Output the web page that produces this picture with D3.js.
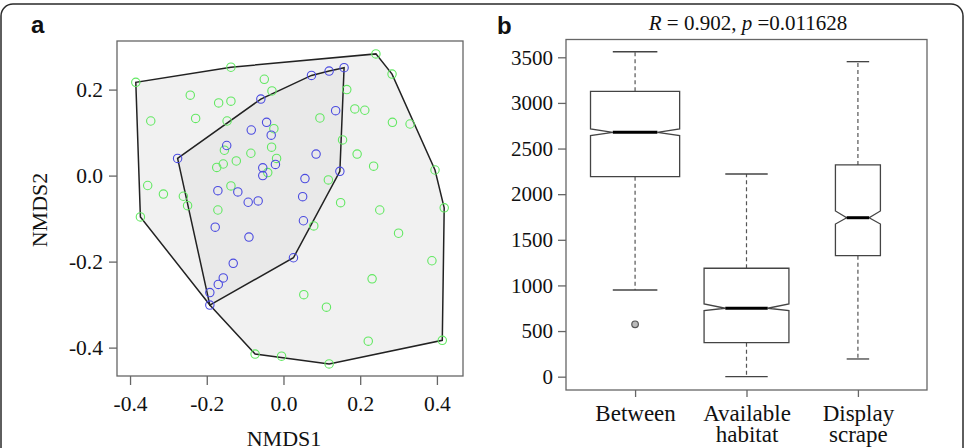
<!DOCTYPE html>
<html>
<head>
<meta charset="utf-8">
<script src="https://cdn.jsdelivr.net/npm/d3@7"></script>
<style>
  body { margin: 0; background: #fff; }
  svg text { font-family: "Liberation Serif", "Times New Roman", serif; fill: #111; }
</style>
</head>
<body>
<svg id="fig" width="967" height="448"></svg>
<script>
// ---- panel a: NMDS scores (NMDS1, NMDS2) ----
var greenPts = [
  [-0.385, 0.217], [-0.137, 0.252], [-0.050, 0.224], [-0.030, 0.197], [-0.243, 0.187],
  [-0.169, 0.169], [-0.137, 0.173], [-0.346, 0.127], [-0.229, 0.133], [-0.147, 0.127],
  [-0.025, 0.109], [-0.031, 0.066], [-0.154, 0.059], [-0.085, 0.052], [-0.018, 0.040],
  [-0.123, 0.034], [-0.157, 0.027], [-0.174, 0.019], [-0.041, 0.007], [0.241, 0.283],
  [0.283, 0.236], [0.165, 0.200], [0.186, 0.155], [0.212, 0.152], [0.095, 0.134],
  [0.284, 0.124], [0.330, 0.120], [0.154, 0.083], [0.192, 0.050], [0.235, 0.022],
  [0.395, 0.013], [0.117, -0.010], [-0.354, -0.023], [-0.313, -0.043], [-0.261, -0.048],
  [-0.250, -0.070], [-0.373, -0.096], [-0.137, -0.024], [-0.171, -0.080], [0.149, -0.063],
  [0.251, -0.080], [0.300, -0.134], [0.419, -0.075], [0.387, -0.198], [0.079, -0.117],
  [0.231, -0.240], [0.053, -0.277], [0.112, -0.306], [-0.074, -0.415], [-0.005, -0.420],
  [0.221, -0.385], [0.414, -0.383], [0.119, -0.438]
];
var bluePts = [
  [-0.059, 0.178], [-0.044, 0.124], [-0.084, 0.106], [-0.032, 0.094], [-0.148, 0.070],
  [-0.276, 0.040], [-0.054, 0.018], [-0.021, 0.026], [-0.054, 0.000], [0.073, 0.233],
  [0.119, 0.243], [0.158, 0.251], [0.136, 0.151], [0.085, 0.050], [0.147, 0.010],
  [0.056, -0.007], [-0.171, -0.035], [-0.119, -0.038], [-0.092, -0.062], [-0.066, -0.059],
  [-0.178, -0.120], [-0.090, -0.143], [-0.131, -0.204], [-0.157, -0.238], [-0.170, -0.253],
  [-0.192, -0.272], [-0.192, -0.301], [0.050, -0.049], [0.052, -0.105], [0.026, -0.191]
];
var nmdsTicksX = [-0.4, -0.2, 0.0, 0.2, 0.4];
var nmdsTicksY = [-0.4, -0.2, 0.0, 0.2];

// ---- panel b: distance boxplots ----
var groups   = ["Between", "Available habitat", "Display scrape"];
var groupN   = [1225, 1110, 312];            // sample sizes (box width ~ sqrt(n))
var lowWhisk = [950, 0, 194];
var q1       = [2192, 373, 1326];
var medians  = [2678, 750, 1742];
var q3       = [3127, 1188, 2320];
var highWhisk= [3561, 2221, 3452];
var notchLo  = [2642, 723, 1673];
var notchHi  = [2715, 797, 1816];
var outliers = [[1, 574]];                    // [group index (1-based), value]
var distTicks = [0, 500, 1000, 1500, 2000, 2500, 3000, 3500];

var svg = d3.select("#fig");

// card outline
svg.append("rect")
  .attr("x", 1).attr("y", 4).attr("width", 962).attr("height", 470)
  .attr("rx", 12)
  .attr("fill", "none").attr("stroke", "#2a2a2a").attr("stroke-width", 1.5);

// panel letters
svg.append("text").attr("x", 31).attr("y", 33).text("a")
  .style("font-family", "'Liberation Sans', Arial, sans-serif")
  .style("font-weight", "bold").style("font-size", "24px");
svg.append("text").attr("x", 497).attr("y", 34).text("b")
  .style("font-family", "'Liberation Sans', Arial, sans-serif")
  .style("font-weight", "bold").style("font-size", "24px");

// ================= panel a =================
var ax = d3.scaleLinear().domain([-0.434, 0.468]).range([117, 463]);
var ay = d3.scaleLinear().domain([-0.466, 0.313]).range([376, 41]);

var pa = svg.append("g");

var allPx = greenPts.concat(bluePts).map(d => [ax(d[0]), ay(d[1])]);
var bluePx = bluePts.map(d => [ax(d[0]), ay(d[1])]);
var outerHull = d3.polygonHull(allPx);
var innerHull = d3.polygonHull(bluePx);

var hullLine = d3.line().curve(d3.curveLinearClosed);
pa.append("path").attr("d", hullLine(outerHull))
  .attr("fill", "#f1f1f1").attr("stroke", "#222").attr("stroke-width", 1.5);
pa.append("path").attr("d", hullLine(innerHull))
  .attr("fill", "#e9e9e9").attr("stroke", "#222").attr("stroke-width", 1.5);

pa.selectAll("circle.g").data(greenPts).join("circle")
  .attr("class", "g")
  .attr("cx", d => ax(d[0])).attr("cy", d => ay(d[1])).attr("r", 4.2)
  .attr("fill", "none").attr("stroke", "#62e862").attr("stroke-width", 1.1);
pa.selectAll("circle.b").data(bluePts).join("circle")
  .attr("class", "b")
  .attr("cx", d => ax(d[0])).attr("cy", d => ay(d[1])).attr("r", 4.2)
  .attr("fill", "none").attr("stroke", "#4b4be0").attr("stroke-width", 1.1);

// frame
pa.append("rect").attr("x", 117).attr("y", 41).attr("width", 346).attr("height", 335)
  .attr("fill", "none").attr("stroke", "#666").attr("stroke-width", 1.3);

var axA = pa.append("g").attr("transform", "translate(0,376)")
  .call(d3.axisBottom(ax).tickValues(nmdsTicksX).tickFormat(d3.format(".1f"))
    .tickSize(9).tickPadding(11));
var ayA = pa.append("g").attr("transform", "translate(117,0)")
  .call(d3.axisLeft(ay).tickValues(nmdsTicksY).tickFormat(d3.format(".1f"))
    .tickSize(8).tickPadding(6));
[axA, ayA].forEach(g => {
  g.select(".domain").remove();
  g.selectAll(".tick line").attr("stroke", "#666").attr("stroke-width", 1.3);
  g.selectAll(".tick text").attr("font-family", "Liberation Serif")
    .style("font-family", "'Liberation Serif', serif")
    .style("font-size", "21.5px").attr("fill", "#111")
    .text(function(d) { return d3.format(".1f")(d).replace("−", "-"); });
});

pa.append("text").attr("x", 284).attr("y", 446).attr("text-anchor", "middle")
  .style("font-size", "22px").text("NMDS1");
pa.append("text").attr("transform", "translate(47,210) rotate(-90)")
  .attr("text-anchor", "middle").style("font-size", "22px").text("NMDS2");

// ================= panel b =================
var bx = d3.scaleLinear().domain([0.38, 3.62]).range([566, 927]);
var by = d3.scaleLinear().domain([-146, 3695]).range([390, 39.5]);
var maxRoot = d3.max(groupN, n => Math.sqrt(n));
var halfW = groupN.map(n => (bx(1.4) - bx(1)) * Math.sqrt(n) / maxRoot);

var pb = svg.append("g");
var boxes = groups.map((g, i) => ({
  i: i, cx: bx(i + 1), w: halfW[i],
  lo: lowWhisk[i], q1: q1[i], med: medians[i], q3: q3[i], hi: highWhisk[i],
  nlo: notchLo[i], nhi: notchHi[i]
}));

var bg = pb.selectAll("g.box").data(boxes).join("g").attr("class", "box");
// whiskers
bg.append("line").attr("x1", d => d.cx).attr("x2", d => d.cx)
  .attr("y1", d => by(d.q3)).attr("y2", d => by(d.hi))
  .attr("stroke", "#555").attr("stroke-width", 1.2).attr("stroke-dasharray", "4,3");
bg.append("line").attr("x1", d => d.cx).attr("x2", d => d.cx)
  .attr("y1", d => by(d.q1)).attr("y2", d => by(d.lo))
  .attr("stroke", "#555").attr("stroke-width", 1.2).attr("stroke-dasharray", "4,3");
// staples
bg.append("line").attr("x1", d => d.cx - d.w / 2).attr("x2", d => d.cx + d.w / 2)
  .attr("y1", d => by(d.hi)).attr("y2", d => by(d.hi))
  .attr("stroke", "#444").attr("stroke-width", 1.3);
bg.append("line").attr("x1", d => d.cx - d.w / 2).attr("x2", d => d.cx + d.w / 2)
  .attr("y1", d => by(d.lo)).attr("y2", d => by(d.lo))
  .attr("stroke", "#444").attr("stroke-width", 1.3);
// notched box
bg.append("path")
  .attr("d", d => {
    var l = d.cx - d.w, r = d.cx + d.w, nl = d.cx - d.w / 2, nr = d.cx + d.w / 2;
    return "M" + l + "," + by(d.q1) + "L" + r + "," + by(d.q1) +
      "L" + r + "," + by(d.nlo) + "L" + nr + "," + by(d.med) + "L" + r + "," + by(d.nhi) +
      "L" + r + "," + by(d.q3) + "L" + l + "," + by(d.q3) +
      "L" + l + "," + by(d.nhi) + "L" + nl + "," + by(d.med) + "L" + l + "," + by(d.nlo) + "Z";
  })
  .attr("fill", "#fff").attr("stroke", "#444").attr("stroke-width", 1.3);
// median
bg.append("line").attr("x1", d => d.cx - d.w / 2).attr("x2", d => d.cx + d.w / 2)
  .attr("y1", d => by(d.med)).attr("y2", d => by(d.med))
  .attr("stroke", "#000").attr("stroke-width", 3);

// outliers
pb.selectAll("circle.out").data(outliers).join("circle").attr("class", "out")
  .attr("cx", d => bx(d[0])).attr("cy", d => by(d[1])).attr("r", 3.3)
  .attr("fill", "#bbb").attr("stroke", "#555").attr("stroke-width", 1.2);

// frame
pb.append("rect").attr("x", 566).attr("y", 39.5).attr("width", 361).attr("height", 350.5)
  .attr("fill", "none").attr("stroke", "#666").attr("stroke-width", 1.3);

var byAx = pb.append("g").attr("transform", "translate(566,0)")
  .call(d3.axisLeft(by).tickValues(distTicks).tickFormat(d3.format("d"))
    .tickSize(8).tickPadding(5));
var bxAx = pb.append("g").attr("transform", "translate(0,390)")
  .call(d3.axisBottom(bx).tickValues([1, 2, 3]).tickFormat(d => groups[d - 1])
    .tickSize(7).tickPadding(8));
[byAx, bxAx].forEach(g => {
  g.select(".domain").remove();
  g.selectAll(".tick line").attr("stroke", "#666").attr("stroke-width", 1.3);
  g.selectAll(".tick text").attr("font-family", "Liberation Serif")
    .style("font-family", "'Liberation Serif', serif")
    .style("font-size", "21px").attr("fill", "#111");
});
bxAx.selectAll(".tick text").style("font-size", "23px").each(function(d) {
  var words = groups[d - 1].split(" ");
  var t = d3.select(this).text(null);
  words.forEach((w, k) => {
    t.append("tspan").attr("x", 0).attr("dy", k === 0 ? "0.68em" : "0.93em").text(w);
  });
});

// title
var title = pb.append("text").attr("x", 748).attr("y", 30).attr("text-anchor", "middle")
  .style("font-size", "21px");
title.append("tspan").style("font-style", "italic").text("R");
title.append("tspan").text(" = 0.902, ");
title.append("tspan").style("font-style", "italic").text("p");
title.append("tspan").text(" =0.011628");
</script>
</body>
</html>
